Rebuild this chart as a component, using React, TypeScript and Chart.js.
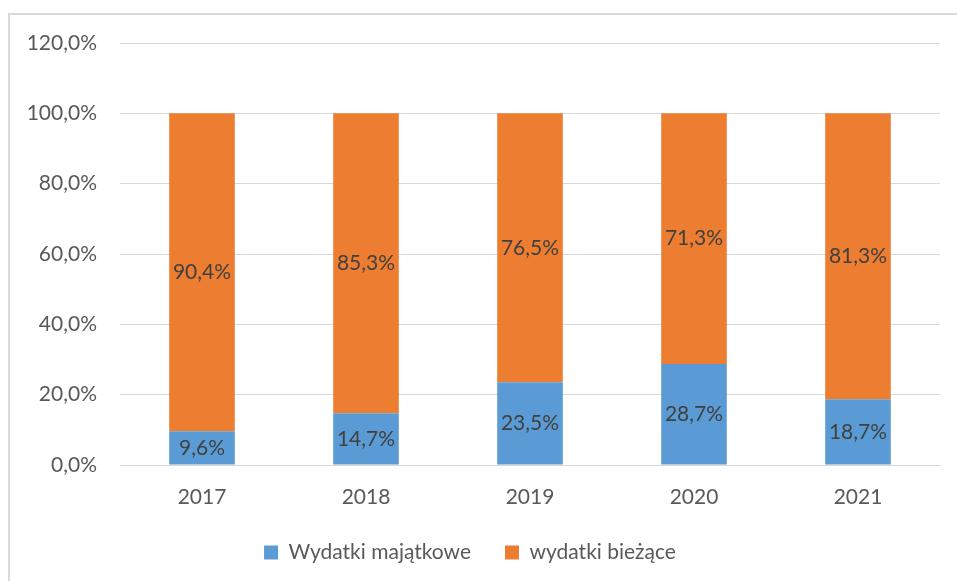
import React, { useEffect, useRef } from "react";
import { Chart, registerables } from "chart.js";

Chart.register(...registerables);

const years = ["2017", "2018", "2019", "2020", "2021"];
const majatkowe = [9.6, 14.7, 23.5, 28.7, 18.7];
const biezace = [90.4, 85.3, 76.5, 71.3, 81.3];
const seriesNames = ["Wydatki majątkowe", "wydatki bieżące"];
const seriesColors = ["#5B9BD5", "#ED7D31"];

const FONT = "Lato";
const FS = 21;
const fmt = (v: number) => v.toFixed(1).replace(".", ",") + "%";

const frame = {
  id: "frame",
  beforeDraw(chart: any) {
    const ctx = chart.ctx;
    ctx.save();
    ctx.fillStyle = "#ffffff";
    ctx.fillRect(0, 0, chart.width, chart.height);
    ctx.strokeStyle = "#d9d9d9";
    ctx.lineWidth = 2;
    ctx.beginPath();
    ctx.moveTo(9, chart.height);
    ctx.lineTo(9, 14);
    ctx.lineTo(chart.width, 14);
    ctx.stroke();
    ctx.restore();
  },
};

const valueLabels = {
  id: "valueLabels",
  afterDatasetsDraw(chart: any) {
    const ctx = chart.ctx;
    ctx.save();
    ctx.font = `${FS}px ${FONT}`;
    ctx.fillStyle = "#404040";
    ctx.textAlign = "center";
    ctx.textBaseline = "middle";
    chart.data.datasets.forEach((ds: any, i: number) => {
      const meta = chart.getDatasetMeta(i);
      meta.data.forEach((bar: any, j: number) => {
        const y = (bar.y + bar.base) / 2;
        ctx.fillText(fmt(ds.data[j]), bar.x, y);
      });
    });
    ctx.restore();
  },
};

export default function App() {
  const ref = useRef<HTMLCanvasElement>(null);
  useEffect(() => {
    const chart = new Chart(ref.current!, {
      type: "bar",
      data: {
        labels: years,
        datasets: [
          { label: seriesNames[0], data: majatkowe, backgroundColor: seriesColors[0] },
          { label: seriesNames[1], data: biezace, backgroundColor: seriesColors[1] },
        ],
      },
      options: {
        responsive: false,
        animation: false,
        devicePixelRatio: 1,
        layout: { padding: { left: 0, right: 17, top: 43, bottom: 8 } },
        datasets: { bar: { categoryPercentage: 1, barPercentage: 0.4 } },
        plugins: {
          legend: {
            position: "bottom",
            labels: {
              boxWidth: 14,
              boxHeight: 14,
              padding: 34,
              color: "#595959",
              font: { family: FONT, size: FS },
            },
          },
          tooltip: { enabled: false },
        },
        scales: {
          x: {
            stacked: true,
            grid: { display: false, drawTicks: false },
            border: { color: "#d9d9d9", width: 1 },
            ticks: { color: "#595959", padding: 20, font: { family: FONT, size: FS } },
            afterFit: (s: any) => { s.height = 43; },
          },
          y: {
            stacked: true,
            min: 0,
            max: 120,
            grid: { color: "#d9d9d9", drawTicks: false },
            border: { display: false },
            ticks: {
              stepSize: 20,
              color: "#595959",
              padding: 23,
              font: { family: FONT, size: FS },
              callback: (v: any) => fmt(Number(v)),
            },
            afterFit: (s: any) => { s.width = 120; },
          },
        },
      },
      plugins: [frame, valueLabels],
    });
    return () => chart.destroy();
  }, []);
  return (
    <div style={{ position: "absolute", left: 0, top: 0, width: 957, height: 581 }}>
      <canvas ref={ref} width={957} height={581} style={{ display: "block" }} />
    </div>
  );
}
